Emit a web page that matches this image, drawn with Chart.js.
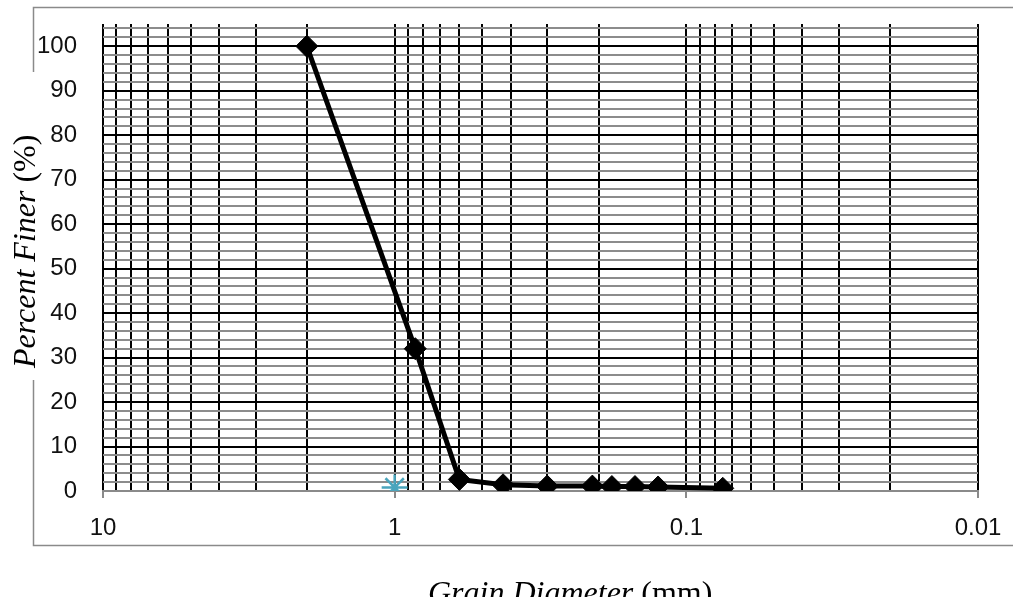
<!DOCTYPE html>
<html>
<head>
<meta charset="utf-8">
<script src="https://cdn.jsdelivr.net/npm/chart.js@4/dist/chart.umd.min.js"></script>
<style>
  body { margin: 0; background: #fff; }
  canvas { display: block; }
</style>
</head>
<body>
<canvas id="mycanvas" width="1013" height="597"></canvas>
<script>
// sieve data
var diameter = [2, 0.85, 0.6, 0.425, 0.3, 0.21, 0.18, 0.15, 0.125, 0.075];
var finer = [100, 32, 2.6, 1.4, 1.1, 1.1, 1.0, 1.0, 0.9, 0.6];

// the lone marker at 1 mm
var markX = [1];
var markY = [0.8];

// axis ticks
var xDecades = [0.01, 0.1, 1];
var xMultipliers = [1, 2, 3, 4, 5, 6, 7, 8, 9];
var xLabels = [10, 1, 0.1, 0.01];
var yMajor = [0, 10, 20, 30, 40, 50, 60, 70, 80, 90, 100];
var yMinorStep = 2;

function isLabel(v) {
  for (var i = 0; i < xLabels.length; i++) {
    if (Math.abs(v - xLabels[i]) < xLabels[i] * 1e-6) return true;
  }
  return false;
}

var mainPts = [];
for (var i = 0; i < diameter.length; i++) mainPts.push({x: diameter[i], y: finer[i]});
var markPts = [];
for (var j = 0; j < markX.length; j++) markPts.push({x: markX[j], y: markY[j]});

var framePlugin = {
  id: 'frame',
  beforeDraw: function(chart) {
    var c = chart.ctx;
    c.save();
    c.strokeStyle = '#8a8a8a';
    c.lineWidth = 1.5;
    c.strokeRect(33.5, 7.5, 1000, 538);
    c.restore();
  },
  afterDraw: function(chart) {
    var c = chart.ctx;
    c.save();
    // gap in the frame behind the y title
    c.fillStyle = '#fff';
    c.fillRect(5, 72, 40, 308);
    c.fillStyle = '#000';
    // y title
    c.translate(35, 368);
    c.rotate(-Math.PI / 2);
    c.textBaseline = 'alphabetic';
    c.font = 'italic 32px "Liberation Serif"';
    var a = 'Percent Finer ';
    c.fillText(a, 0, 0);
    var w = c.measureText(a).width;
    c.font = '32px "Liberation Serif"';
    c.fillText('(%)', w, 0);
    c.restore();

    c.save();
    c.fillStyle = '#000';
    c.font = 'italic 32px "Liberation Serif"';
    var b = 'Grain Diameter ';
    c.fillText(b, 428, 603);
    var w2 = c.measureText(b).width;
    c.font = '32px "Liberation Serif"';
    c.fillText('(mm)', 428 + w2, 603);
    c.restore();
  }
};

var ctx = document.getElementById('mycanvas');

var chart = new Chart(ctx, {
  type: 'scatter',
  data: {
    datasets: [
      {
        label: 'Percent Finer',
        data: mainPts,
        showLine: true,
        borderColor: '#000',
        backgroundColor: '#000',
        borderWidth: 5,
        pointStyle: 'rectRot',
        pointRadius: 11,
        pointBorderWidth: 1,
        pointBorderColor: '#000',
        pointBackgroundColor: '#000',
        tension: 0
      },
      {
        label: 'mark',
        data: markPts,
        showLine: false,
        pointStyle: 'star',
        pointRadius: 13,
        pointBorderWidth: 2.5,
        pointBorderColor: '#4aa5bd',
        pointBackgroundColor: '#4aa5bd'
      }
    ]
  },
  options: {
    responsive: false,
    animation: false,
    layout: { padding: { top: 24, right: 35, left: 0, bottom: 0 } },
    plugins: {
      legend: { display: false },
      tooltip: { enabled: false }
    },
    scales: {
      x: {
        type: 'logarithmic',
        reverse: true,
        min: 0.01,
        max: 10,
        afterBuildTicks: function(scale) {
          var t = [];
          for (var d = 0; d < xDecades.length; d++) {
            for (var k = 0; k < xMultipliers.length; k++) {
              t.push({value: xDecades[d] * xMultipliers[k]});
            }
          }
          t.push({value: 10});
          scale.ticks = t;
        },
        afterFit: function(scale) {
          scale.height = 106;
          scale.paddingLeft = 0;
          scale.paddingRight = 0;
        },
        border: { display: true, color: '#8a8a8a', width: 2 },
        grid: {
          color: '#000',
          lineWidth: 2,
          drawTicks: true,
          tickLength: 7,
          tickColor: function(c) {
            return (c.tick && isLabel(c.tick.value)) ? '#8a8a8a' : 'rgba(0,0,0,0)';
          },
          tickWidth: 2
        },
        ticks: {
          autoSkip: false,
          maxRotation: 0,
          padding: 16,
          color: '#111',
          font: { family: '"Liberation Sans"', size: 24 },
          callback: function(v) {
            if (!isLabel(v)) return '';
            return String(Number(v.toPrecision(6)));
          }
        }
      },
      y: {
        type: 'linear',
        min: 0,
        max: 105,
        afterBuildTicks: function(scale) {
          var t = [];
          for (var v = 0; v <= 104; v += yMinorStep) t.push({value: v});
          scale.ticks = t;
        },
        afterFit: function(scale) {
          scale.width = 103;
          scale.paddingTop = 0;
          scale.paddingBottom = 0;
        },
        border: { display: false },
        grid: {
          drawTicks: false,
          color: function(c) {
            return (c.tick && yMajor.indexOf(c.tick.value) >= 0) ? '#000' : '#8c8c8c';
          },
          lineWidth: function(c) {
            return (c.tick && yMajor.indexOf(c.tick.value) >= 0) ? 2 : 2;
          }
        },
        ticks: {
          autoSkip: false,
          padding: 26,
          color: '#111',
          font: { family: '"Liberation Sans"', size: 24 },
          callback: function(v) {
            return yMajor.indexOf(v) >= 0 ? String(v) : '';
          }
        }
      }
    }
  },
  plugins: [framePlugin]
});
</script>
</body>
</html>
